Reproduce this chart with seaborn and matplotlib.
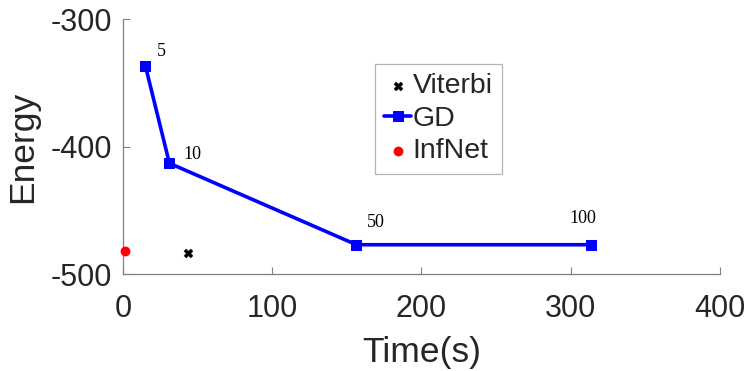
import matplotlib
matplotlib.use("Agg")
import matplotlib.pyplot as plt
import seaborn as sns
import pandas as pd

# data
gd_time = [15.1, 31.2, 156.5, 313.5]
gd_energy = [-336.4, -412.9, -476.8, -476.8]
gd_iters = ["5", "10", "50", "100"]
viterbi_time = [43.7]
viterbi_energy = [-483.5]
infnet_time = [1.7]
infnet_energy = [-481.7]
x_ticks = [0, 100, 200, 300, 400]
y_ticks = [-500, -400, -300]

sns.set_theme(style="white")
plt.rcParams['font.family'] = ['Liberation Sans', 'DejaVu Sans']
plt.rcParams['axes.unicode_minus'] = False

fig = plt.figure(figsize=(7.49, 3.71), dpi=100)
ax = fig.add_axes([0.164, 0.2606, 0.797, 0.6874])

gd = pd.DataFrame({"t": gd_time, "e": gd_energy})
vit = pd.DataFrame({"t": viterbi_time, "e": viterbi_energy})
inf = pd.DataFrame({"t": infnet_time, "e": infnet_energy})

sns.scatterplot(data=vit, x="t", y="e", ax=ax, marker="X", color="black",
                s=42, edgecolor="black", linewidth=0.3, label="Viterbi", zorder=3)
sns.lineplot(data=gd, x="t", y="e", ax=ax, color="#0000ff", linewidth=2.6,
             marker="s", markersize=6.5, markeredgecolor="#0000ff",
             label="GD", sort=False, zorder=3)
sns.scatterplot(data=inf, x="t", y="e", ax=ax, marker="o", color="#ff0000",
                s=50, edgecolor="#ff0000", linewidth=0, label="InfNet", zorder=3,
                clip_on=False)

offsets = [(16, 14), (23, 9), (19, 22), (-8, 26)]
for t, e, lab, (dx, dy) in zip(gd_time, gd_energy, gd_iters, offsets):
    ax.annotate(lab, (t, e), xytext=(dx, dy), textcoords="offset pixels",
                ha="center", va="center", fontsize=13,
                fontfamily="Liberation Serif", color="black")

ax.set_xlim(0, 400)
ax.set_ylim(-500, -300)
ax.set_xticks(x_ticks)
ax.set_yticks(y_ticks)
ax.tick_params(axis="both", direction="in", length=5, width=0.8,
               color="#808080", labelsize=22, labelcolor="#262626",
               bottom=True, left=True)
ax.tick_params(axis="x", pad=14.5)
ax.tick_params(axis="y", pad=8)
for side in ["top", "right"]:
    ax.spines[side].set_visible(False)
for side in ["bottom", "left"]:
    ax.spines[side].set_color("#808080")
    ax.spines[side].set_linewidth(0.9)

ax.set_xlabel("Time(s)", fontsize=25.5, color="#262626", labelpad=8)
ax.set_ylabel("Energy", fontsize=25.5, color="#262626", labelpad=8)

leg = ax.legend(loc="upper left", bbox_to_anchor=(0.422, 0.825),
                borderaxespad=0, fontsize=20.5, frameon=True, fancybox=False,
                handlelength=0.95, handletextpad=0.05, labelspacing=0.23,
                borderpad=0.33)
leg.get_frame().set_edgecolor("#a0a0a0")
leg.get_frame().set_linewidth(0.9)

fig.savefig("out.png", dpi=100)
